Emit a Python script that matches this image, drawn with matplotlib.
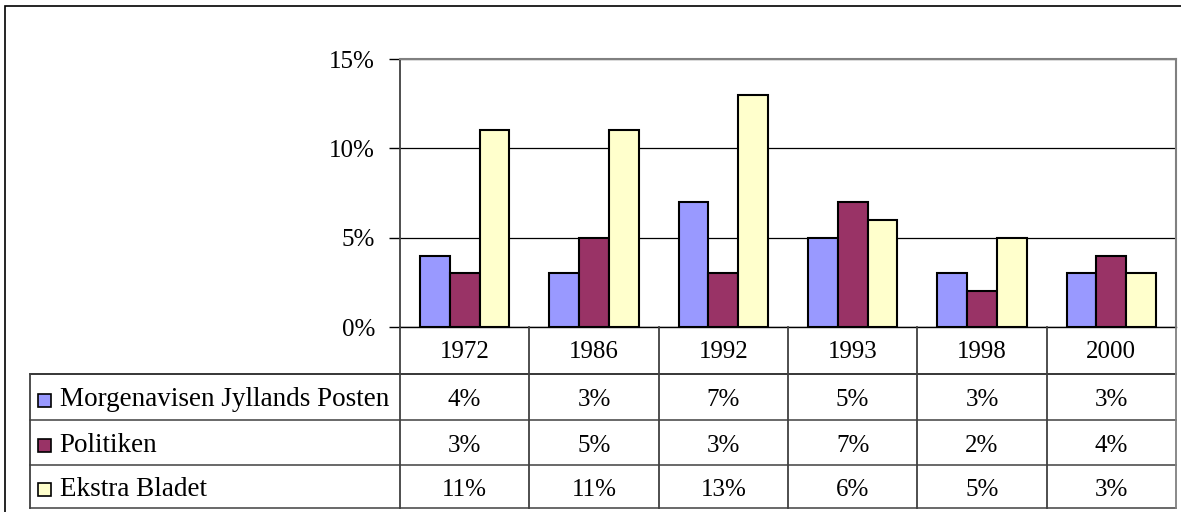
import matplotlib.pyplot as plt
from matplotlib.patches import Rectangle

years = ['1972', '1986', '1992', '1993', '1998', '2000']
series = ['Morgenavisen Jyllands Posten', 'Politiken', 'Ekstra Bladet']
jp = [4, 3, 7, 5, 3, 3]
pol = [3, 5, 3, 7, 2, 4]
eb = [11, 11, 13, 6, 5, 3]
values = [jp, pol, eb]
colors = ['#9999FF', '#993366', '#FFFFCC']

plt.rcParams['font.family'] = ['Liberation Serif', 'DejaVu Serif']
W, H = 1181, 512
fig = plt.figure(figsize=(W / 100, H / 100), dpi=100)

# outer chart frame
fig.add_artist(Rectangle((5 / W, -0.1), 1.2, (H - 6) / H + 0.1, transform=fig.transFigure,
                         fill=False, ec='black', lw=1.2))

# plot area in pixels
x0, x1, y_top, y_zero, y_bot = 400, 1176, 59, 327, 508
ax = fig.add_axes([x0 / W, 1 - y_zero / H, (x1 - x0) / W, (y_zero - y_top) / H])
n = len(years)
bw = 0.23
for i, (vals, c) in enumerate(zip(values, colors)):
    xs = [k + 0.5 + (i - 1) * bw for k in range(n)]
    ax.bar(xs, vals, width=bw, color=c, edgecolor='black', lw=1.5, zorder=3)
ax.set_xlim(0, n)
ax.set_ylim(0, 15)
ax.set_yticks([0, 5, 10, 15])
ax.set_yticklabels(['0%', '5%', '10%', '15%'], fontsize=18)
ax.yaxis.grid(True, color='black', lw=0.9, zorder=0)
ax.set_xticks([])
ax.tick_params(axis='y', length=8, width=1, pad=10)
for s in ['top', 'right']:
    ax.spines[s].set_color('#808080')
    ax.spines[s].set_linewidth(1.5)
ax.spines['left'].set_color('#404040')
ax.spines['left'].set_linewidth(1.3)
ax.spines['bottom'].set_color('black')
ax.spines['bottom'].set_linewidth(1)

# data table below, x in category units like the plot, y in pixels
lab_w = (x0 - 30) / ((x1 - x0) / n)
tab = fig.add_axes([30 / W, 1 - y_bot / H, (x1 - 30) / W, (y_bot - y_zero) / H])
tab.set_xlim(-lab_w, n)
tab.set_ylim(y_bot, y_zero)
tab.axis('off')
rows = [327, 374, 420, 465, 508]
lc = '#404040'
for j, r in enumerate(rows[1:]):
    tab.plot([-lab_w, n], [r, r], color='black' if j == 0 else lc, lw=1.1, clip_on=False)
for k in range(n + 1):
    col = '#808080' if k == n else lc
    tab.plot([k, k], [rows[0], rows[-1]], color=col, lw=1.3, clip_on=False)
tab.plot([-lab_w, -lab_w], [rows[1], rows[-1]], color=lc, lw=1.3, clip_on=False)

for k, y in enumerate(years):
    tab.text(k + 0.5, (rows[0] + rows[1]) / 2 + 2, y, ha='center', va='center', fontsize=18)
for r, (name, vals, c) in enumerate(zip(series, values, colors)):
    yc = (rows[r + 1] + rows[r + 2]) / 2 + 3
    tab.add_patch(Rectangle((-lab_w + 0.06, yc - 6.5), 0.105, 13, fc=c, ec='black',
                            lw=1.2, clip_on=False))
    tab.text(-lab_w + 0.23, yc, name, ha='left', va='center', fontsize=19.5)
    for k, v in enumerate(vals):
        tab.text(k + 0.5, yc, f'{v}%', ha='center', va='center', fontsize=18)

fig.savefig('out.png', dpi=100)
